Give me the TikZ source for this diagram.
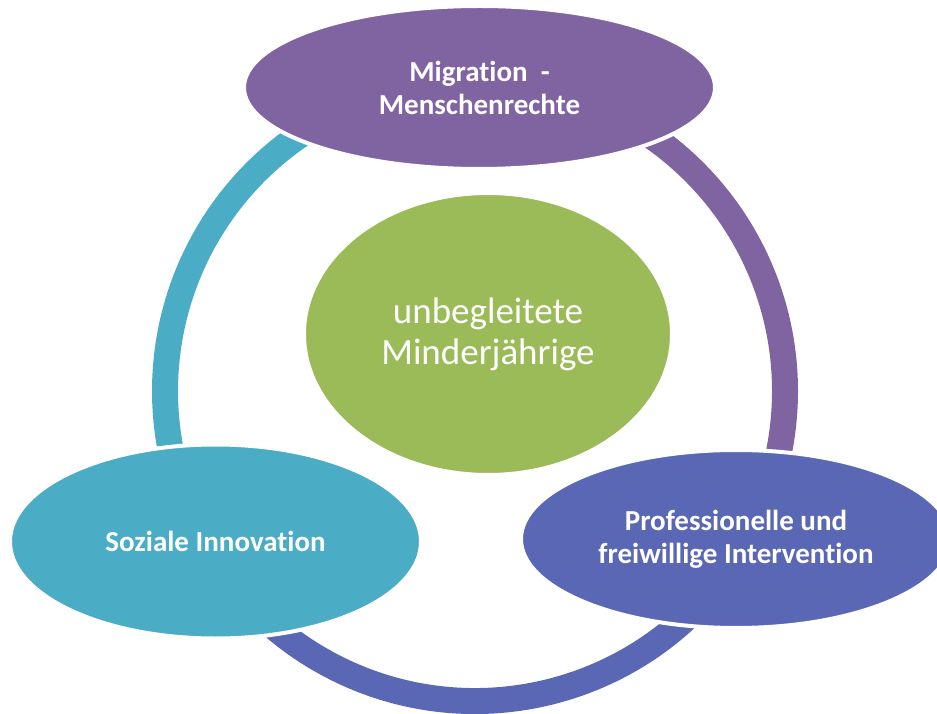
\documentclass[tikz,border=0pt]{standalone}
\usepackage{fontspec}
\setmainfont{Carlito}[Ligatures={NoCommon}]
\usetikzlibrary{shapes.geometric}
\definecolor{cpurple}{HTML}{8064A2}
\definecolor{cgreen}{HTML}{9BBB59}
\definecolor{cteal}{HTML}{4BACC6}
\definecolor{cblue}{HTML}{5A67B4}
\begin{document}
\begin{tikzpicture}[x=1pt,y=1pt,
  ring/.style={line width=26pt},
  blob/.style={ellipse, inner sep=0pt, draw=white, line width=4pt, text=white, align=center},
  labeltext/.style={font=\bfseries\fontsize{29}{33}\selectfont},
  centertext/.style={font=\fontsize{37}{41}\selectfont}]
\useasboundingbox (0,0) rectangle (937,713);
\coordinate (c) at (475,322);
% ring segments
\draw[ring, cteal]   (c) ++(210:310) arc[start angle=210, end angle=110, radius=310];
\draw[ring, cpurple] (c) ++(70:310)  arc[start angle=70,  end angle=-30, radius=310];
\draw[ring, cblue]   (c) ++(-30:310) arc[start angle=-30, end angle=-150, radius=310];
% ellipses
\node[blob, fill=cpurple, labeltext, minimum width=471pt, minimum height=163pt] (mig) at (479.5,625.5) {Migration~~-\\Menschenrechte};
\node[blob, fill=cgreen, centertext, minimum width=368pt, minimum height=282pt] (um) at (488,379) {unbegleitete\\Minderjährige};
\node[blob, fill=cteal, labeltext, minimum width=411pt, minimum height=194pt] (soz) at (215.5,171.5) {Soziale Innovation};
\node[blob, fill=cblue, labeltext, minimum width=430pt, minimum height=178pt] (pro) at (736,174) {Professionelle und\\freiwillige Intervention};
\end{tikzpicture}
\end{document}
